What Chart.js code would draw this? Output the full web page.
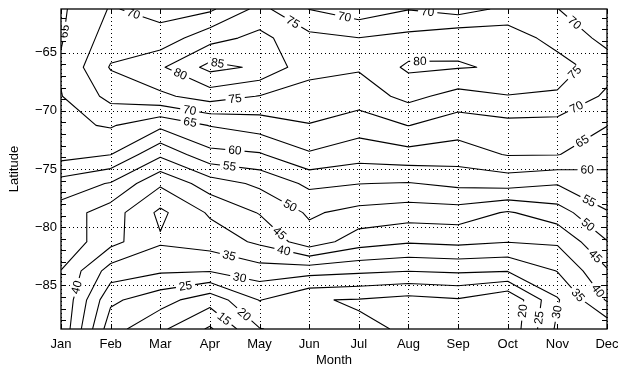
<!DOCTYPE html>
<html>
<head>
<meta charset="utf-8">
<title>Latitude / Month contours</title>
<script src="https://cdn.jsdelivr.net/npm/chart.js@4.4.1/dist/chart.umd.min.js"></script>
<style>
  html, body { margin: 0; padding: 0; background: #fff; }
  #chartBox { width: 618px; height: 369px; }
</style>
</head>
<body>
<div id="chartBox"><canvas id="contourChart" width="618" height="369"></canvas></div>
<script>
// Grid axes: months along x, 2.5 degree latitude bins along y
const months = ['Jan', 'Feb', 'Mar', 'Apr', 'May', 'Jun', 'Jul', 'Aug', 'Sep', 'Oct', 'Nov', 'Dec'];
const latitudes = [-61.25, -63.75, -66.25, -68.75, -71.25, -73.75, -76.25, -78.75, -81.25, -83.75, -86.25, -88.75];
const latTicks = [-85, -80, -75, -70, -65];
const contourLevels = [10, 15, 20, 25, 30, 35, 40, 45, 50, 55, 60, 65, 70, 75, 80, 85];

// Values for each month, north (-61.25) to south (-88.75)
const janValues = [64.2, 64.6, 65.6, 64.8, 63.8, 62.0, 53.0, 47.7, 48.7, 44.9, 44.6, 44.0];
const febValues = [70.4, 72.4, 75.4, 71.5, 65.5, 60.1, 49.6, 42.5, 41.6, 32.8, 26.0, 22.0];
const marValues = [68.2, 72.0, 79.3, 74.0, 61.2, 51.0, 40.8, 33.9, 35.6, 30.7, 22.0, 16.0];
const aprValues = [69.1, 78.2, 86.5, 77.2, 65.2, 58.5, 47.5, 40.7, 37.2, 30.3, 17.0, 9.3];
const mayValues = [76.5, 81.4, 84.2, 74.8, 67.3, 59.5, 51.0, 45.3, 40.9, 32.8, 25.2, 19.8];
const junValues = [69.9, 76.4, 76.8, 72.7, 69.8, 64.4, 56.1, 50.7, 47.9, 31.9, 20.3, 22.0];
const julValues = [67.0, 75.1, 75.5, 72.5, 67.2, 62.1, 55.1, 48.4, 42.3, 31.0, 19.7, 20.5];
const augValues = [69.8, 76.4, 80.9, 76.4, 70.1, 63.2, 54.7, 47.4, 40.5, 30.2, 18.3, 19.7];
const sepValues = [67.8, 78.9, 80.3, 73.2, 67.3, 62.7, 56.2, 47.7, 41.2, 30.8, 19.5, 18.0];
const octValues = [71.2, 78.1, 79.5, 74.8, 68.4, 65.3, 57.0, 44.5, 40.2, 30.3, 15.5, 16.0];
const novValues = [70.1, 72.8, 77.5, 74.3, 68.2, 65.2, 55.3, 47.8, 40.7, 35.2, 29.5, 31.0];
const decValues = [66.0, 68.8, 72.0, 69.1, 65.1, 62.0, 58.2, 54.7, 49.8, 44.5, 40.5, 31.5];

const monthValues = [janValues, febValues, marValues, aprValues, mayValues, junValues,
    julValues, augValues, sepValues, octValues, novValues, decValues];

// Where the contour labels sit: [level, month, latitude] (snapped onto the line)
const labelSpots = [
    [65, 0.12, -63.2], [70, 1.45, -61.8], [85, 3.16, -65.8], [80, 2.4, -66.9],
    [75, 4.67, -62.4], [70, 5.72, -61.8], [70, 7.39, -61.4], [80, 7.23, -66.0],
    [70, 10.35, -62.4], [75, 10.35, -66.7], [75, 3.51, -69.0], [70, 2.6, -69.8],
    [65, 2.6, -71.0], [70, 10.39, -69.7], [65, 10.5, -72.6], [60, 3.51, -73.1],
    [55, 3.4, -74.6], [60, 10.6, -75.1], [55, 10.62, -77.9], [50, 4.61, -78.2],
    [45, 4.41, -80.5], [50, 10.56, -80.1], [45, 10.72, -82.7], [40, 4.49, -82.0],
    [35, 3.38, -82.6], [30, 3.61, -84.1], [25, 2.5, -84.8], [40, 0.34, -85.2],
    [35, 10.43, -85.8], [40, 10.84, -85.4], [30, 9.99, -87.3], [25, 9.67, -87.8],
    [20, 9.29, -87.2], [20, 3.71, -87.4], [15, 3.3, -87.8]
];

const axisFont = { family: 'Liberation Sans, Arial, sans-serif', size: 13 };

// Marching squares: segments for one level, each end tagged with its cell edge
const contourSegments = (level) => {
    const segs = [];
    const frac = (a, b) => (level - a) / (b - a);
    for (let i = 0; i < months.length - 1; i++) {
        for (let j = 0; j < latitudes.length - 1; j++) {
            const tl = monthValues[i][j], tr = monthValues[i + 1][j];
            const bl = monthValues[i][j + 1], br = monthValues[i + 1][j + 1];
            const dLat = latitudes[j + 1] - latitudes[j];
            const pts = {};
            if ((tl > level) !== (tr > level)) pts.top = { key: 'h' + i + '_' + j, x: i + frac(tl, tr), y: latitudes[j] };
            if ((tr > level) !== (br > level)) pts.right = { key: 'v' + (i + 1) + '_' + j, x: i + 1, y: latitudes[j] + frac(tr, br) * dLat };
            if ((bl > level) !== (br > level)) pts.bottom = { key: 'h' + i + '_' + (j + 1), x: i + frac(bl, br), y: latitudes[j + 1] };
            if ((tl > level) !== (bl > level)) pts.left = { key: 'v' + i + '_' + j, x: i, y: latitudes[j] + frac(tl, bl) * dLat };
            const found = Object.keys(pts);
            if (found.length === 2) {
                segs.push([pts[found[0]], pts[found[1]]]);
            } else if (found.length === 4) {
                // saddle: decide with the cell mean
                const centre = (tl + tr + bl + br) / 4;
                if ((tl > level) === (centre > level)) {
                    segs.push([pts.top, pts.right], [pts.bottom, pts.left]);
                } else {
                    segs.push([pts.top, pts.left], [pts.right, pts.bottom]);
                }
            }
        }
    }
    return segs;
};

// Chain segments into polylines
const joinSegments = (segs) => {
    const byKey = new Map();
    segs.forEach((s, k) => {
        s.forEach(p => {
            if (!byKey.has(p.key)) byKey.set(p.key, []);
            byKey.get(p.key).push(k);
        });
    });
    const used = segs.map(() => false);
    const walk = (k, start) => {
        const line = [start];
        let cur = start;
        while (k !== undefined) {
            used[k] = true;
            const s = segs[k];
            const next = s[0].key === cur.key ? s[1] : s[0];
            line.push(next);
            cur = next;
            k = byKey.get(cur.key).find(m => !used[m]);
        }
        return line;
    };
    const lines = [];
    byKey.forEach((list, key) => {
        if (list.length === 1 && !used[list[0]]) {
            const s = segs[list[0]];
            lines.push(walk(list[0], s[0].key === key ? s[0] : s[1]));
        }
    });
    segs.forEach((s, k) => {
        if (!used[k]) lines.push(walk(k, s[0]));
    });
    return lines;
};

const contourLines = new Map();
const datasets = contourLevels.map(level => {
    const lines = joinSegments(contourSegments(level));
    contourLines.set(level, lines);
    const data = [];
    lines.forEach(line => {
        line.forEach(p => data.push({ x: p.x, y: p.y }));
        data.push({ x: NaN, y: null });
    });
    return {
        label: String(level),
        data: data,
        borderColor: '#000',
        borderWidth: 1.1,
        borderJoinStyle: 'round',
        pointRadius: 0,
        fill: false,
        spanGaps: false
    };
});

// Dotted grid, contour labels, frame and minor ticks
const framePlugin = {
    id: 'contourFrame',
    beforeDatasetsDraw(chart) {
        const { ctx, chartArea: a, scales: { x, y } } = chart;
        ctx.save();
        ctx.strokeStyle = '#000';
        ctx.lineWidth = 1;
        ctx.setLineDash([1, 3]);
        months.forEach((m, i) => {
            const px = Math.round(x.getPixelForValue(i)) + 0.5;
            ctx.beginPath();
            ctx.moveTo(px, a.top);
            ctx.lineTo(px, a.bottom);
            ctx.stroke();
        });
        latTicks.forEach(v => {
            const py = Math.round(y.getPixelForValue(v)) + 0.5;
            ctx.beginPath();
            ctx.moveTo(a.left, py);
            ctx.lineTo(a.right, py);
            ctx.stroke();
        });
        ctx.restore();
    },
    afterDatasetsDraw(chart) {
        const { ctx, chartArea: a, scales: { x, y } } = chart;

        // Contour labels
        ctx.save();
        ctx.beginPath();
        ctx.rect(a.left, a.top, a.right - a.left, a.bottom - a.top);
        ctx.clip();
        ctx.font = '12px Liberation Sans, Arial, sans-serif';
        ctx.textAlign = 'center';
        ctx.textBaseline = 'middle';
        const toPx = p => ({ x: x.getPixelForValue(p.x), y: y.getPixelForValue(p.y) });
        labelSpots.forEach(([level, mx, my]) => {
            const lines = contourLines.get(level) || [];
            const tx = x.getPixelForValue(mx), ty = y.getPixelForValue(my);
            let best = null;
            lines.forEach(line => {
                for (let k = 0; k < line.length - 1; k++) {
                    const p = toPx(line[k]), q = toPx(line[k + 1]);
                    const dx = q.x - p.x, dy = q.y - p.y;
                    const len2 = dx * dx + dy * dy || 1;
                    let t = ((tx - p.x) * dx + (ty - p.y) * dy) / len2;
                    t = Math.max(0, Math.min(1, t));
                    const cx = p.x + t * dx, cy = p.y + t * dy;
                    const d = (cx - tx) ** 2 + (cy - ty) ** 2;
                    if (!best || d < best.d) best = { d, cx, cy, ang: Math.atan2(dy, dx) };
                }
            });
            if (!best) return;
            let ang = best.ang;
            if (ang > Math.PI / 2) ang -= Math.PI;
            if (ang <= -Math.PI / 2) ang += Math.PI;
            const text = String(level);
            const w = ctx.measureText(text).width;
            ctx.save();
            ctx.translate(best.cx, best.cy);
            ctx.rotate(ang);
            ctx.fillStyle = '#fff';
            ctx.fillRect(-w / 2 - 3, -4.5, w + 6, 9);
            ctx.fillStyle = '#000';
            ctx.fillText(text, 0, 0.5);
            ctx.restore();
        });
        ctx.restore();

        // Frame and ticks
        ctx.save();
        ctx.strokeStyle = '#000';
        ctx.lineWidth = 1.3;
        ctx.strokeRect(a.left, a.top, a.right - a.left, a.bottom - a.top);
        ctx.lineWidth = 1;
        ctx.beginPath();
        for (let lat = -88; lat <= -62; lat++) {
            const py = Math.round(y.getPixelForValue(lat)) + 0.5;
            ctx.moveTo(a.left, py);
            ctx.lineTo(a.left + 5, py);
            ctx.moveTo(a.right, py);
            ctx.lineTo(a.right - 5, py);
        }
        months.forEach((m, i) => {
            const px = Math.round(x.getPixelForValue(i)) + 0.5;
            ctx.moveTo(px, a.bottom);
            ctx.lineTo(px, a.bottom - 5);
            ctx.moveTo(px, a.top);
            ctx.lineTo(px, a.top + 5);
        });
        ctx.stroke();
        ctx.restore();
    }
};

new Chart(document.getElementById('contourChart'), {
    type: 'line',
    data: { datasets: datasets },
    options: {
        responsive: false,
        devicePixelRatio: 1,
        animation: false,
        layout: { padding: { top: 9, right: 11, left: 0, bottom: 0 } },
        plugins: {
            legend: { display: false },
            tooltip: { enabled: false }
        },
        elements: { line: { tension: 0 }, point: { radius: 0 } },
        scales: {
            x: {
                type: 'linear',
                min: 0,
                max: months.length - 1,
                grid: { display: false, drawTicks: false },
                border: { display: false },
                afterBuildTicks: scale => { scale.ticks = months.map((m, i) => ({ value: i })); },
                afterFit: scale => { scale.height = 40; scale.paddingLeft = 0; scale.paddingRight = 0; },
                ticks: {
                    autoSkip: false,
                    maxRotation: 0,
                    padding: 8,
                    color: '#000',
                    font: axisFont,
                    callback: v => months[v]
                },
                title: {
                    display: true,
                    text: 'Month',
                    color: '#000',
                    font: axisFont,
                    padding: { top: 0, bottom: 1 }
                }
            },
            y: {
                type: 'linear',
                min: latitudes[latitudes.length - 1],
                max: latitudes[0],
                grid: { display: false, drawTicks: false },
                border: { display: false },
                afterBuildTicks: scale => { scale.ticks = latTicks.map(v => ({ value: v })); },
                afterFit: scale => { scale.width = 61; scale.paddingTop = 0; scale.paddingBottom = 0; },
                ticks: {
                    padding: 4,
                    color: '#000',
                    font: axisFont,
                    callback: v => '\u2212' + Math.abs(v)
                },
                title: {
                    display: true,
                    text: 'Latitude',
                    color: '#000',
                    font: axisFont,
                    padding: { top: 7, bottom: 0 }
                }
            }
        }
    },
    plugins: [framePlugin]
});
</script>
</body>
</html>
